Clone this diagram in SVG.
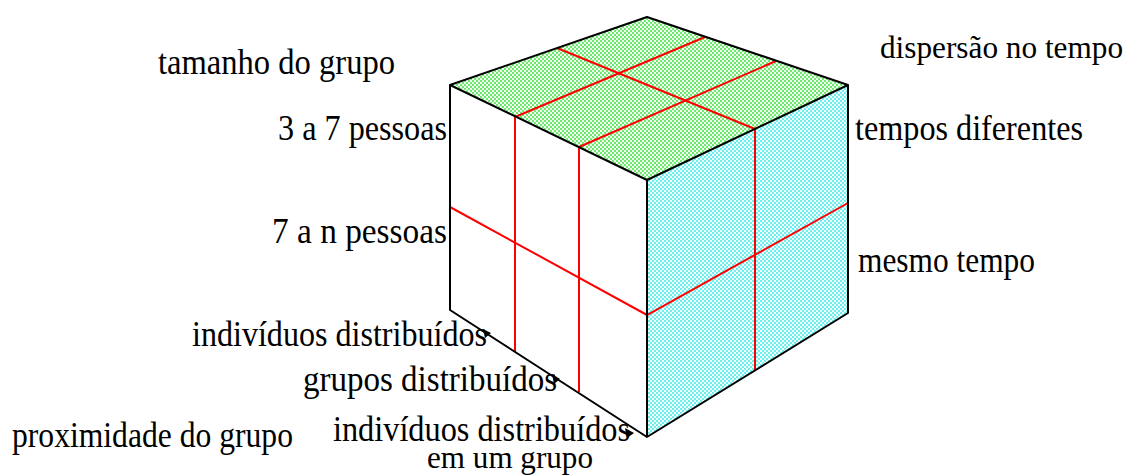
<svg xmlns="http://www.w3.org/2000/svg" width="1138" height="476" viewBox="0 0 1138 476">
<style>
.lbl{font-family:"Liberation Serif",serif;font-size:35px;fill:#000}
.edge{fill:none;stroke:#000;stroke-width:2;stroke-linejoin:round}
.red{fill:none;stroke:#ff0000;stroke-width:2}
.mk{fill:#000}
</style>
<defs>
<pattern id="pg" width="4" height="4" patternUnits="userSpaceOnUse">
<rect width="4" height="4" fill="#f0fdf0"/>
<circle cx="1" cy="1" r="0.9" fill="#30e030"/>
<circle cx="3" cy="3" r="0.9" fill="#30e030"/>
</pattern>
<pattern id="pc" width="4" height="4" patternUnits="userSpaceOnUse">
<rect width="4" height="4" fill="#f0fdfd"/>
<circle cx="1" cy="1" r="0.9" fill="#30e8e8"/>
<circle cx="3" cy="3" r="0.9" fill="#30e8e8"/>
</pattern>
</defs>
<rect width="1138" height="476" fill="#fff"/>
<g id="cube">
<polygon id="top-face" points="450,85 647,17 848,85 647,180" fill="url(#pg)"/>
<polygon id="left-face" points="450,85 647,180 647,437 450,310" fill="#fff"/>
<polygon id="right-face" points="647,180 848,85 848,313 647,437" fill="url(#pc)"/>
<g id="grid">
<line class="red" x1="557" y1="48" x2="755" y2="129"/>
<line class="red" x1="515" y1="117" x2="705" y2="37"/>
<line class="red" x1="579" y1="147" x2="776" y2="61"/>
<line class="red" x1="515" y1="117" x2="515" y2="352"/>
<line class="red" x1="579" y1="147" x2="579" y2="392"/>
<line class="red" x1="755" y1="129" x2="755" y2="371"/>
<polyline class="red" points="450,207 647,315 848,203"/>
</g>
<g id="edges">
<polygon class="edge" points="450,85 647,17 848,85 647,180"/>
<polyline class="edge" points="450,85 450,310 647,437 848,313 848,85"/>
<line class="edge" x1="647" y1="180" x2="647" y2="437"/>
</g>
<g id="ticks">
<polygon class="mk" points="483,329 491,333 485,338"/>
<polygon class="mk" points="552,374 560,379 554,384"/>
<polygon class="mk" points="625,428 634,433 627,438"/>
</g>
</g>
<g id="labels">
<text class="lbl" x="158" y="74" textLength="237" lengthAdjust="spacingAndGlyphs">tamanho do grupo</text>
<text class="lbl" x="278" y="140" textLength="169" lengthAdjust="spacingAndGlyphs">3 a 7 pessoas</text>
<text class="lbl" x="272" y="243" textLength="175" lengthAdjust="spacingAndGlyphs">7 a n pessoas</text>
<text class="lbl" x="880" y="58" style="font-size:32px" textLength="243" lengthAdjust="spacingAndGlyphs">dispersão no tempo</text>
<text class="lbl" x="855" y="140" textLength="228" lengthAdjust="spacingAndGlyphs">tempos diferentes</text>
<text class="lbl" x="858" y="272" textLength="177" lengthAdjust="spacingAndGlyphs">mesmo tempo</text>
<text class="lbl" x="192" y="346" textLength="295" lengthAdjust="spacingAndGlyphs">indivíduos distribuídos</text>
<text class="lbl" x="303" y="391" textLength="254" lengthAdjust="spacingAndGlyphs">grupos distribuídos</text>
<text class="lbl" x="12" y="447" textLength="281" lengthAdjust="spacingAndGlyphs">proximidade do grupo</text>
<text class="lbl"><tspan x="333" y="441" textLength="297" lengthAdjust="spacingAndGlyphs">indivíduos distribuídos</tspan><tspan x="427" y="468" style="font-size:32px" textLength="166" lengthAdjust="spacingAndGlyphs">em um grupo</tspan></text>
</g>
</svg>
